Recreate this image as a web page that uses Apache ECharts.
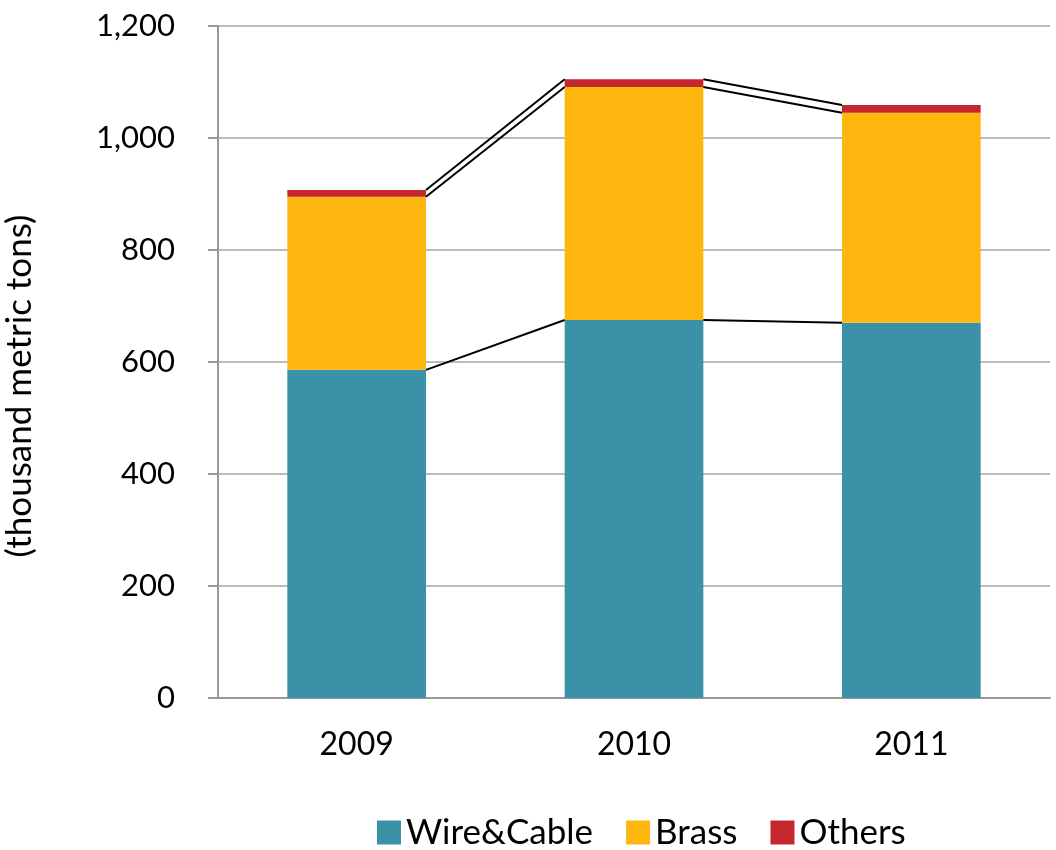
<!DOCTYPE html>
<html>
<head>
<meta charset="utf-8">
<script src="https://cdn.jsdelivr.net/npm/echarts@6/dist/echarts.min.js"></script>
<style>
  html, body { margin: 0; padding: 0; background: #fff; }
  #chart { width: 1056px; height: 850px; }
</style>
</head>
<body>
<div id="chart"></div>
<script>
var years = ['2009', '2010', '2011'];
var wireCable = [586, 675, 670];
var brass = [309, 416, 375];
var others = [12, 14, 14];
var yTicks = [0, 200, 400, 600, 800, 1000, 1200];

window.onload = function () {
    var chart = echarts.init(document.getElementById('chart'));
    var font = 'Lato, "Open Sans", sans-serif';

    // series lines between bars (top of each stacked segment)
    var lineData = [];
    for (let i = 0; i < years.length - 1; i++) {
        var a1 = wireCable[i], a2 = wireCable[i + 1];
        var b1 = a1 + brass[i], b2 = a2 + brass[i + 1];
        var c1 = b1 + others[i], c2 = b2 + others[i + 1];
        lineData.push([i, a1, a2]);
        lineData.push([i, b1, b2]);
        lineData.push([i, c1, c2]);
    }

    var option = {
        animation: false,
        grid: { left: 218, right: 6, top: 26, bottom: 152, outerBoundsMode: 'none', containLabel: false },
        legend: {
            data: ['Wire&Cable', 'Brass', 'Others'],
            top: 810,
            left: 372,
            itemWidth: 24,
            itemHeight: 24,
            itemGap: 33,
            icon: 'rect',
            textStyle: { fontSize: 35, color: '#000', fontFamily: font }
        },
        xAxis: {
            type: 'category',
            data: years,
            axisLine: { lineStyle: { color: '#999', width: 2 } },
            axisTick: { show: false },
            axisLabel: { fontSize: 32, color: '#000', margin: 31, fontFamily: font }
        },
        yAxis: {
            type: 'value',
            min: yTicks[0],
            max: yTicks[yTicks.length - 1],
            interval: 200,
            name: '(thousand metric tons)',
            nameLocation: 'middle',
            nameGap: 181,
            nameRotate: 90,
            nameTextStyle: { fontSize: 35, color: '#000', fontFamily: font, padding: [0, 48, 0, 0] },
            axisLine: { show: true, lineStyle: { color: '#999', width: 2 } },
            axisTick: { show: true, length: 10, lineStyle: { color: '#999', width: 2 } },
            splitLine: { lineStyle: { color: '#a6a6a6', width: 1.5 } },
            axisLabel: {
                fontSize: 31, color: '#000', margin: 43, fontFamily: font,
                formatter: function (v) { return v.toLocaleString('en-US'); }
            }
        },
        series: [
            { name: 'Wire&Cable', type: 'bar', stack: 'total', barWidth: '50%', data: wireCable,
              itemStyle: { color: '#3a91a8' } },
            { name: 'Brass', type: 'bar', stack: 'total', data: brass,
              itemStyle: { color: '#fdb70f' } },
            { name: 'Others', type: 'bar', stack: 'total', data: others,
              itemStyle: { color: '#c4282e' } },
            {
                type: 'custom',
                z: 5,
                data: lineData,
                renderItem: function (params, api) {
                    var i = api.value(0);
                    var half = api.size([1, 0])[0] * 0.25;
                    var p1 = api.coord([i, api.value(1)]);
                    var p2 = api.coord([i + 1, api.value(2)]);
                    return {
                        type: 'line',
                        shape: { x1: p1[0] + half, y1: p1[1], x2: p2[0] - half, y2: p2[1] },
                        style: { stroke: '#000', lineWidth: 2 }
                    };
                }
            }
        ]
    };
    chart.setOption(option);
};
</script>
</body>
</html>
